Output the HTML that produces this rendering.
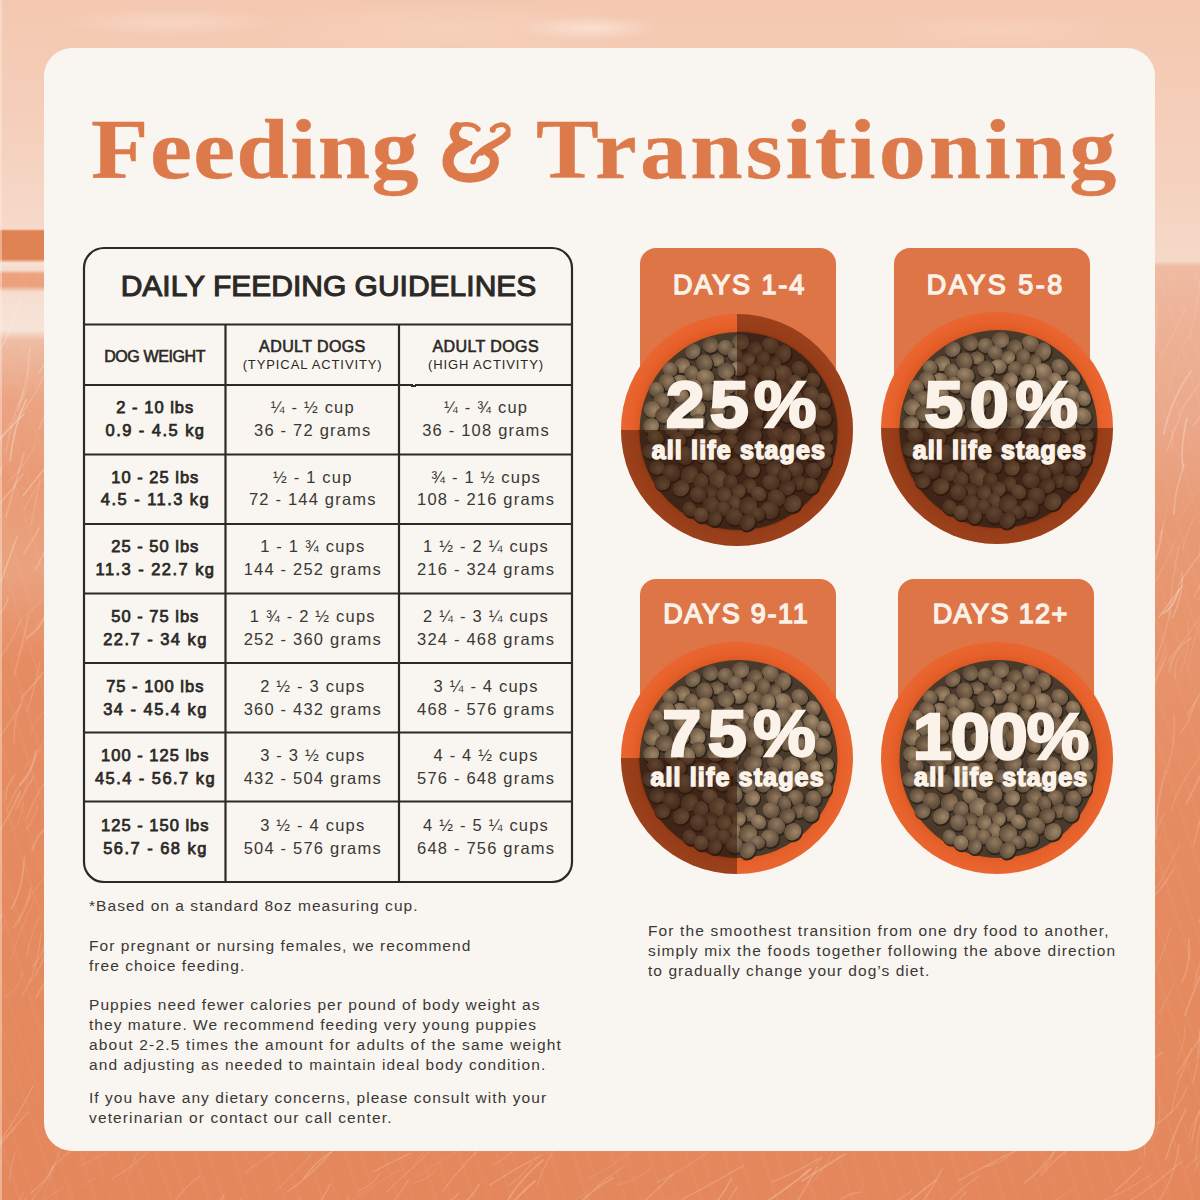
<!DOCTYPE html>
<html><head><meta charset="utf-8">
<style>
html,body{margin:0;padding:0;width:1200px;height:1200px;overflow:hidden;}
body{position:relative;font-family:"Liberation Sans",sans-serif;background:#eea27c;}
.abs{position:absolute;}
#bg{left:0;top:0;width:1200px;height:1200px;
 background:linear-gradient(180deg,#f4c8b0 0px,#f5cdb8 100px,#f5d3c1 200px,#f6d8c8 261px,#efbba2 266px,#edb195 330px,#eba88a 420px,#e89a74 520px,#e68c62 800px,#e4875c 1200px);}
#ls{left:0;top:0;width:44px;height:1200px;
 background:linear-gradient(180deg,#f4c8b0 0px,#f5cfbb 120px,#f6d9ca 229px,#de8254 231px,#df8254 259px,#f7e2d6 263px,#f5dccd 270px,#eca27c 274px,#eaa17c 286px,#f6ddd0 292px,#f7e3d8 330px,#eebda3 340px,#eba483 400px,#e99a74 480px,#eaa37f 570px,#e68c62 660px,#e4875c 1200px);}
#ll{left:0;top:0;width:1.5px;height:1200px;background:rgba(255,240,230,0.4);}
.grass{background:repeating-linear-gradient(72deg,rgba(255,235,220,0) 0px,rgba(255,235,220,0) 17px,rgba(255,235,220,0.10) 19px,rgba(255,235,220,0) 21px,rgba(255,235,220,0) 31px,rgba(255,235,220,0.07) 33px,rgba(255,235,220,0) 36px);}
#card{left:44px;top:48px;width:1111px;height:1103px;border-radius:28px;background:#f9f5f0;}
.ttl{position:absolute;top:95px;font-family:"Liberation Serif",serif;font-weight:bold;font-size:84px;line-height:110px;color:#dd7a4b;letter-spacing:1.75px;-webkit-text-stroke:0.4px #dd7a4b;transform:scaleX(1.12);transform-origin:0 0;white-space:nowrap;}
.t{position:absolute;white-space:nowrap;text-align:center;color:#2b2926;}
.b{font-weight:bold;}
.body{position:absolute;white-space:nowrap;color:#3a3835;font-size:15.5px;line-height:20px;letter-spacing:1.05px;}
.tab{position:absolute;width:196px;height:200px;border-radius:16px 16px 0 0;background:#de7547;}
.days{position:absolute;width:196px;text-align:center;color:#faf1e8;font-weight:bold;font-size:27px;line-height:30px;}
.bowl{position:absolute;width:240px;height:240px;}
.pct{position:absolute;text-shadow:0 0 4px rgba(50,30,15,0.45);width:240px;text-align:center;color:#fbf3ea;font-weight:bold;font-size:65px;line-height:70px;letter-spacing:-1px;}
.als{position:absolute;text-shadow:0 0 4px rgba(50,30,15,0.45);width:240px;text-align:center;color:#fbf3ea;font-weight:bold;font-size:25px;line-height:30px;letter-spacing:-0.5px;}
</style></head><body>
<div id="bg" class="abs"></div>
<div id="ls" class="abs"></div>
<div class="abs grass" style="left:0;top:262px;width:1200px;height:938px;opacity:0.5"></div>
<svg class="abs" style="left:0;top:0" width="1200" height="1200"><g fill="none" stroke="#fff3ea" stroke-linecap="round"><path d="M14 743 Q13 720 23 698" stroke-width="1.4" stroke-opacity="0.16"/><path d="M28 901 Q42 878 51 870" stroke-width="0.9" stroke-opacity="0.18"/><path d="M38 1214 Q48 1182 56 1165" stroke-width="1.0" stroke-opacity="0.10"/><path d="M-5 509 Q9 494 23 474" stroke-width="1.3" stroke-opacity="0.31"/><path d="M20 785 Q33 771 36 751" stroke-width="2.0" stroke-opacity="0.20"/><path d="M-6 621 Q7 607 8 597" stroke-width="1.7" stroke-opacity="0.20"/><path d="M31 1193 Q50 1178 53 1166" stroke-width="1.9" stroke-opacity="0.15"/><path d="M18 405 Q31 391 28 369" stroke-width="0.9" stroke-opacity="0.18"/><path d="M-5 445 Q4 433 11 423" stroke-width="1.8" stroke-opacity="0.14"/><path d="M24 510 Q35 484 56 466" stroke-width="0.9" stroke-opacity="0.21"/><path d="M28 1204 Q51 1179 61 1148" stroke-width="1.1" stroke-opacity="0.14"/><path d="M39 429 Q46 407 60 399" stroke-width="1.7" stroke-opacity="0.18"/><path d="M15 420 Q36 398 43 376" stroke-width="1.2" stroke-opacity="0.21"/><path d="M32 851 Q37 833 50 825" stroke-width="1.9" stroke-opacity="0.18"/><path d="M36 998 Q54 964 74 942" stroke-width="1.9" stroke-opacity="0.16"/><path d="M38 374 Q55 347 69 327" stroke-width="1.1" stroke-opacity="0.31"/><path d="M23 496 Q36 479 45 468" stroke-width="1.5" stroke-opacity="0.31"/><path d="M-8 1156 Q-1 1140 16 1128" stroke-width="1.3" stroke-opacity="0.11"/><path d="M-12 849 Q7 822 20 792" stroke-width="2.0" stroke-opacity="0.17"/><path d="M-18 465 Q-5 442 24 414" stroke-width="1.6" stroke-opacity="0.34"/><path d="M24 769 Q45 745 59 709" stroke-width="0.9" stroke-opacity="0.15"/><path d="M22 996 Q38 970 41 932" stroke-width="1.2" stroke-opacity="0.17"/><path d="M27 711 Q35 688 40 662" stroke-width="1.5" stroke-opacity="0.14"/><path d="M18 411 Q28 381 30 348" stroke-width="1.7" stroke-opacity="0.20"/><path d="M30 732 Q48 704 66 685" stroke-width="0.8" stroke-opacity="0.16"/><path d="M10 962 Q19 933 34 900" stroke-width="1.1" stroke-opacity="0.10"/><path d="M-10 520 Q-7 496 2 467" stroke-width="1.3" stroke-opacity="0.32"/><path d="M6 517 Q16 482 24 453" stroke-width="1.9" stroke-opacity="0.20"/><path d="M10 461 Q14 425 26 400" stroke-width="1.7" stroke-opacity="0.34"/><path d="M-3 741 Q6 728 21 705" stroke-width="1.6" stroke-opacity="0.15"/><path d="M7 1214 Q19 1205 23 1193" stroke-width="1.8" stroke-opacity="0.10"/><path d="M27 615 Q43 599 47 591" stroke-width="1.3" stroke-opacity="0.11"/><path d="M-17 465 Q-4 452 -1 423" stroke-width="1.6" stroke-opacity="0.26"/><path d="M-8 949 Q3 929 6 919" stroke-width="0.8" stroke-opacity="0.15"/><path d="M1 582 Q7 564 17 537" stroke-width="1.5" stroke-opacity="0.29"/><path d="M-15 1147 Q-7 1125 -3 1090" stroke-width="1.0" stroke-opacity="0.15"/><path d="M14 675 Q24 641 28 616" stroke-width="1.9" stroke-opacity="0.15"/><path d="M29 983 Q47 963 49 929" stroke-width="1.1" stroke-opacity="0.19"/><path d="M27 818 Q37 789 61 761" stroke-width="1.8" stroke-opacity="0.13"/><path d="M26 830 Q37 813 37 806" stroke-width="1.8" stroke-opacity="0.11"/><path d="M27 638 Q42 628 46 612" stroke-width="1.4" stroke-opacity="0.28"/><path d="M10 1182 Q9 1171 15 1153" stroke-width="1.1" stroke-opacity="0.15"/><path d="M11 909 Q23 891 24 860" stroke-width="1.2" stroke-opacity="0.14"/><path d="M31 525 Q36 502 40 478" stroke-width="1.5" stroke-opacity="0.15"/><path d="M-18 879 Q-13 855 -9 831" stroke-width="1.3" stroke-opacity="0.18"/><path d="M-16 955 Q-11 935 2 915" stroke-width="1.9" stroke-opacity="0.19"/><path d="M6 453 Q10 423 24 390" stroke-width="1.4" stroke-opacity="0.18"/><path d="M-12 1163 Q-6 1148 -5 1139" stroke-width="1.0" stroke-opacity="0.12"/><path d="M17 656 Q31 628 52 610" stroke-width="0.9" stroke-opacity="0.15"/><path d="M6 812 Q12 795 27 774" stroke-width="1.4" stroke-opacity="0.12"/><path d="M12 908 Q22 888 25 857" stroke-width="1.8" stroke-opacity="0.12"/><path d="M-1 1143 Q22 1109 33 1086" stroke-width="1.1" stroke-opacity="0.20"/><path d="M24 553 Q36 535 39 528" stroke-width="1.8" stroke-opacity="0.21"/><path d="M21 698 Q39 679 43 672" stroke-width="1.6" stroke-opacity="0.19"/><path d="M25 790 Q31 757 49 739" stroke-width="1.0" stroke-opacity="0.11"/><path d="M11 831 Q22 824 23 802" stroke-width="1.0" stroke-opacity="0.12"/><path d="M-14 1165 Q4 1138 28 1112" stroke-width="1.4" stroke-opacity="0.18"/><path d="M6 799 Q5 786 15 775" stroke-width="1.6" stroke-opacity="0.18"/><path d="M4 998 Q20 989 23 971" stroke-width="1.4" stroke-opacity="0.10"/><path d="M32 967 Q47 952 47 927" stroke-width="1.5" stroke-opacity="0.15"/><path d="M35 570 Q50 547 53 513" stroke-width="1.8" stroke-opacity="0.20"/><path d="M26 958 Q30 937 39 917" stroke-width="1.7" stroke-opacity="0.11"/><path d="M1 349 Q13 322 20 300" stroke-width="1.1" stroke-opacity="0.34"/><path d="M14 927 Q26 912 31 888" stroke-width="2.0" stroke-opacity="0.16"/><path d="M-19 1212 Q-15 1180 3 1158" stroke-width="1.1" stroke-opacity="0.14"/><path d="M-14 674 Q11 648 21 619" stroke-width="1.5" stroke-opacity="0.15"/><path d="M18 1226 Q15 1219 26 1198" stroke-width="1.5" stroke-opacity="0.18"/><path d="M8 482 Q29 462 35 444" stroke-width="1.5" stroke-opacity="0.11"/><path d="M16 809 Q22 796 34 776" stroke-width="1.6" stroke-opacity="0.16"/><path d="M-19 603 Q-14 599 -5 581" stroke-width="1.0" stroke-opacity="0.29"/><path d="M1143 1006 Q1145 972 1149 939" stroke-width="0.9" stroke-opacity="0.19"/><path d="M1155 1206 Q1175 1180 1179 1144" stroke-width="1.7" stroke-opacity="0.15"/><path d="M1147 877 Q1154 850 1161 834" stroke-width="1.0" stroke-opacity="0.11"/><path d="M1180 734 Q1192 718 1195 701" stroke-width="1.5" stroke-opacity="0.14"/><path d="M1197 1228 Q1206 1213 1206 1193" stroke-width="0.9" stroke-opacity="0.19"/><path d="M1156 660 Q1167 630 1170 611" stroke-width="1.5" stroke-opacity="0.16"/><path d="M1199 562 Q1200 528 1208 498" stroke-width="0.8" stroke-opacity="0.12"/><path d="M1146 895 Q1152 884 1156 868" stroke-width="0.9" stroke-opacity="0.17"/><path d="M1169 672 Q1173 649 1191 638" stroke-width="1.7" stroke-opacity="0.18"/><path d="M1177 1060 Q1186 1041 1185 1026" stroke-width="1.3" stroke-opacity="0.13"/><path d="M1199 922 Q1210 898 1223 878" stroke-width="1.7" stroke-opacity="0.19"/><path d="M1193 426 Q1204 412 1210 403" stroke-width="1.5" stroke-opacity="0.22"/><path d="M1145 1030 Q1163 1010 1174 984" stroke-width="0.9" stroke-opacity="0.13"/><path d="M1149 592 Q1165 567 1175 541" stroke-width="1.2" stroke-opacity="0.13"/><path d="M1196 1158 Q1197 1134 1203 1113" stroke-width="1.8" stroke-opacity="0.13"/><path d="M1194 1172 Q1203 1152 1215 1137" stroke-width="1.2" stroke-opacity="0.14"/><path d="M1174 514 Q1174 494 1184 465" stroke-width="1.8" stroke-opacity="0.24"/><path d="M1157 1124 Q1180 1108 1187 1087" stroke-width="1.5" stroke-opacity="0.16"/><path d="M1144 1056 Q1158 1034 1165 999" stroke-width="0.9" stroke-opacity="0.11"/><path d="M1178 415 Q1190 396 1212 367" stroke-width="1.6" stroke-opacity="0.16"/><path d="M1186 804 Q1195 787 1204 768" stroke-width="2.0" stroke-opacity="0.17"/><path d="M1182 982 Q1191 965 1189 939" stroke-width="1.8" stroke-opacity="0.17"/><path d="M1193 1082 Q1201 1054 1199 1029" stroke-width="1.4" stroke-opacity="0.17"/><path d="M1149 714 Q1152 679 1166 647" stroke-width="1.3" stroke-opacity="0.12"/><path d="M1198 600 Q1215 579 1222 569" stroke-width="0.9" stroke-opacity="0.26"/><path d="M1168 395 Q1174 360 1190 333" stroke-width="0.8" stroke-opacity="0.13"/><path d="M1183 550 Q1184 537 1195 516" stroke-width="1.0" stroke-opacity="0.17"/><path d="M1173 617 Q1184 592 1182 572" stroke-width="1.1" stroke-opacity="0.32"/><path d="M1197 827 Q1209 809 1211 795" stroke-width="0.9" stroke-opacity="0.19"/><path d="M1171 810 Q1181 779 1206 750" stroke-width="1.6" stroke-opacity="0.12"/><path d="M1188 671 Q1192 642 1201 620" stroke-width="1.0" stroke-opacity="0.12"/><path d="M1171 1114 Q1176 1085 1192 1047" stroke-width="1.1" stroke-opacity="0.15"/><path d="M1189 341 Q1198 304 1200 280" stroke-width="0.9" stroke-opacity="0.17"/><path d="M1168 767 Q1176 740 1174 716" stroke-width="1.8" stroke-opacity="0.13"/><path d="M1145 1156 Q1143 1144 1152 1122" stroke-width="1.5" stroke-opacity="0.15"/><path d="M1159 617 Q1168 605 1182 586" stroke-width="1.4" stroke-opacity="0.28"/><path d="M1164 434 Q1170 401 1191 371" stroke-width="1.8" stroke-opacity="0.26"/><path d="M1154 972 Q1167 946 1170 929" stroke-width="0.8" stroke-opacity="0.20"/><path d="M1157 888 Q1167 869 1180 844" stroke-width="1.2" stroke-opacity="0.13"/><path d="M1152 568 Q1161 546 1162 530" stroke-width="1.9" stroke-opacity="0.24"/><path d="M1146 1076 Q1149 1062 1162 1052" stroke-width="1.6" stroke-opacity="0.17"/><path d="M1176 1085 Q1185 1064 1197 1057" stroke-width="1.0" stroke-opacity="0.11"/><path d="M1166 1159 Q1174 1132 1186 1109" stroke-width="1.7" stroke-opacity="0.18"/><path d="M1141 707 Q1156 683 1166 656" stroke-width="2.0" stroke-opacity="0.18"/><path d="M1160 357 Q1173 337 1185 309" stroke-width="0.9" stroke-opacity="0.19"/><path d="M1177 1074 Q1191 1050 1210 1025" stroke-width="1.9" stroke-opacity="0.15"/><path d="M1183 466 Q1180 449 1187 418" stroke-width="1.7" stroke-opacity="0.31"/><path d="M1152 898 Q1160 891 1174 869" stroke-width="1.5" stroke-opacity="0.17"/><path d="M1168 661 Q1189 634 1208 606" stroke-width="1.0" stroke-opacity="0.19"/><path d="M1156 839 Q1155 809 1166 770" stroke-width="1.8" stroke-opacity="0.16"/><path d="M1194 597 Q1208 568 1220 554" stroke-width="1.8" stroke-opacity="0.15"/><path d="M1151 368 Q1157 339 1157 302" stroke-width="1.6" stroke-opacity="0.18"/><path d="M1176 680 Q1172 665 1181 654" stroke-width="1.0" stroke-opacity="0.15"/><path d="M1150 847 Q1160 822 1164 813" stroke-width="1.5" stroke-opacity="0.13"/><path d="M1149 937 Q1154 914 1155 886" stroke-width="1.4" stroke-opacity="0.14"/><path d="M1185 1015 Q1197 981 1212 950" stroke-width="1.8" stroke-opacity="0.19"/><path d="M1194 844 Q1200 814 1212 798" stroke-width="1.3" stroke-opacity="0.19"/><path d="M1194 986 Q1202 954 1207 936" stroke-width="1.7" stroke-opacity="0.13"/><path d="M1167 451 Q1175 427 1183 411" stroke-width="0.9" stroke-opacity="0.27"/><path d="M1164 613 Q1174 607 1179 589" stroke-width="1.9" stroke-opacity="0.34"/><path d="M1188 715 Q1198 695 1220 665" stroke-width="1.5" stroke-opacity="0.19"/><path d="M1172 450 Q1171 431 1175 425" stroke-width="1.1" stroke-opacity="0.17"/><path d="M1189 1137 Q1190 1125 1207 1100" stroke-width="1.5" stroke-opacity="0.10"/><path d="M1170 614 Q1171 587 1179 546" stroke-width="1.4" stroke-opacity="0.15"/><path d="M1152 1138 Q1162 1126 1159 1098" stroke-width="1.4" stroke-opacity="0.12"/><path d="M1178 520 Q1199 490 1213 466" stroke-width="0.9" stroke-opacity="0.13"/><path d="M1192 1141 Q1195 1120 1200 1111" stroke-width="1.6" stroke-opacity="0.19"/><path d="M1158 539 Q1165 527 1167 506" stroke-width="1.0" stroke-opacity="0.16"/><path d="M1180 672 Q1191 649 1188 621" stroke-width="1.1" stroke-opacity="0.13"/><path d="M1178 586 Q1200 551 1220 531" stroke-width="1.3" stroke-opacity="0.23"/><path d="M341 1208 Q374 1185 399 1170" stroke-width="0.9" stroke-opacity="0.13"/><path d="M658 1182 Q689 1167 721 1143" stroke-width="2.0" stroke-opacity="0.09"/><path d="M1115 1191 Q1126 1182 1141 1167" stroke-width="1.5" stroke-opacity="0.19"/><path d="M620 1223 Q654 1193 673 1174" stroke-width="1.6" stroke-opacity="0.17"/><path d="M198 1222 Q216 1213 224 1195" stroke-width="1.3" stroke-opacity="0.21"/><path d="M587 1179 Q612 1167 635 1148" stroke-width="1.4" stroke-opacity="0.09"/><path d="M1047 1206 Q1061 1196 1076 1188" stroke-width="0.8" stroke-opacity="0.16"/><path d="M958 1181 Q996 1160 1025 1146" stroke-width="1.5" stroke-opacity="0.17"/><path d="M373 1172 Q388 1164 411 1153" stroke-width="1.5" stroke-opacity="0.17"/><path d="M985 1167 Q1007 1162 1018 1147" stroke-width="1.0" stroke-opacity="0.20"/><path d="M493 1165 Q507 1158 522 1142" stroke-width="2.0" stroke-opacity="0.09"/><path d="M173 1239 Q205 1212 223 1196" stroke-width="0.8" stroke-opacity="0.12"/><path d="M358 1191 Q373 1186 380 1173" stroke-width="0.8" stroke-opacity="0.25"/><path d="M304 1178 Q315 1162 331 1152" stroke-width="1.4" stroke-opacity="0.24"/><path d="M733 1238 Q752 1231 775 1218" stroke-width="1.6" stroke-opacity="0.09"/><path d="M709 1229 Q721 1213 737 1187" stroke-width="1.3" stroke-opacity="0.22"/><path d="M417 1177 Q436 1162 464 1148" stroke-width="1.0" stroke-opacity="0.11"/><path d="M537 1185 Q550 1151 568 1131" stroke-width="1.8" stroke-opacity="0.11"/><path d="M435 1215 Q444 1215 457 1201" stroke-width="1.0" stroke-opacity="0.12"/><path d="M322 1217 Q340 1211 349 1197" stroke-width="1.9" stroke-opacity="0.14"/><path d="M24 1233 Q40 1223 62 1205" stroke-width="0.9" stroke-opacity="0.23"/><path d="M66 1202 Q82 1182 96 1178" stroke-width="0.8" stroke-opacity="0.11"/><path d="M509 1185 Q524 1176 532 1162" stroke-width="1.6" stroke-opacity="0.12"/><path d="M246 1172 Q278 1149 298 1135" stroke-width="1.3" stroke-opacity="0.15"/><path d="M414 1183 Q426 1181 437 1169" stroke-width="0.8" stroke-opacity="0.19"/><path d="M358 1238 Q385 1217 408 1181" stroke-width="1.1" stroke-opacity="0.20"/><path d="M282 1229 Q285 1217 302 1208" stroke-width="1.3" stroke-opacity="0.15"/><path d="M597 1186 Q605 1179 624 1167" stroke-width="1.3" stroke-opacity="0.16"/><path d="M112 1179 Q134 1166 150 1150" stroke-width="1.0" stroke-opacity="0.18"/><path d="M28 1216 Q38 1202 63 1188" stroke-width="0.9" stroke-opacity="0.15"/><path d="M563 1207 Q585 1196 594 1184" stroke-width="0.8" stroke-opacity="0.14"/><path d="M802 1181 Q821 1169 845 1154" stroke-width="1.5" stroke-opacity="0.24"/><path d="M926 1235 Q942 1219 966 1192" stroke-width="1.3" stroke-opacity="0.15"/><path d="M458 1230 Q463 1217 473 1208" stroke-width="1.0" stroke-opacity="0.17"/><path d="M180 1238 Q188 1229 212 1218" stroke-width="1.6" stroke-opacity="0.12"/><path d="M287 1192 Q311 1176 332 1151" stroke-width="1.5" stroke-opacity="0.19"/><path d="M400 1238 Q433 1218 459 1193" stroke-width="1.2" stroke-opacity="0.20"/><path d="M989 1237 Q1013 1219 1040 1207" stroke-width="1.4" stroke-opacity="0.18"/><path d="M641 1220 Q657 1203 673 1199" stroke-width="1.2" stroke-opacity="0.11"/><path d="M82 1165 Q115 1149 138 1135" stroke-width="0.9" stroke-opacity="0.16"/><path d="M1040 1173 Q1052 1160 1055 1150" stroke-width="1.1" stroke-opacity="0.17"/><path d="M302 1217 Q321 1206 330 1184" stroke-width="1.2" stroke-opacity="0.21"/><path d="M505 1205 Q518 1181 543 1160" stroke-width="1.8" stroke-opacity="0.22"/><path d="M277 1214 Q296 1201 299 1200" stroke-width="1.5" stroke-opacity="0.24"/><path d="M503 1215 Q512 1201 535 1181" stroke-width="1.9" stroke-opacity="0.25"/><path d="M51 1169 Q75 1143 104 1132" stroke-width="2.0" stroke-opacity="0.10"/><path d="M580 1203 Q593 1189 613 1178" stroke-width="1.8" stroke-opacity="0.22"/><path d="M918 1209 Q935 1184 942 1169" stroke-width="1.6" stroke-opacity="0.17"/><path d="M129 1174 Q136 1150 149 1141" stroke-width="1.4" stroke-opacity="0.10"/><path d="M172 1205 Q184 1187 200 1176" stroke-width="1.1" stroke-opacity="0.16"/><path d="M77 1164 Q89 1155 101 1129" stroke-width="0.9" stroke-opacity="0.11"/><path d="M1041 1176 Q1051 1161 1076 1144" stroke-width="1.8" stroke-opacity="0.15"/><path d="M748 1213 Q778 1196 811 1169" stroke-width="1.8" stroke-opacity="0.25"/><path d="M211 1218 Q224 1215 242 1203" stroke-width="0.9" stroke-opacity="0.09"/><path d="M617 1185 Q634 1182 650 1169" stroke-width="2.0" stroke-opacity="0.08"/><path d="M882 1223 Q917 1195 936 1180" stroke-width="1.8" stroke-opacity="0.21"/><path d="M483 1236 Q496 1217 508 1206" stroke-width="1.9" stroke-opacity="0.08"/><path d="M443 1191 Q464 1162 490 1139" stroke-width="1.2" stroke-opacity="0.19"/><path d="M386 1232 Q409 1223 424 1212" stroke-width="1.7" stroke-opacity="0.12"/><path d="M213 1214 Q219 1207 242 1199" stroke-width="1.2" stroke-opacity="0.15"/><path d="M386 1192 Q411 1170 442 1139" stroke-width="1.0" stroke-opacity="0.23"/><path d="M1185 1169 Q1218 1138 1245 1119" stroke-width="1.1" stroke-opacity="0.15"/><path d="M813 1182 Q832 1158 835 1146" stroke-width="1.0" stroke-opacity="0.14"/><path d="M454 1211 Q472 1199 479 1184" stroke-width="1.5" stroke-opacity="0.23"/><path d="M681 1200 Q715 1182 743 1166" stroke-width="1.6" stroke-opacity="0.16"/><path d="M276 1191 Q298 1170 315 1150" stroke-width="1.4" stroke-opacity="0.09"/><path d="M713 1207 Q726 1190 731 1179" stroke-width="1.4" stroke-opacity="0.25"/><path d="M1187 1219 Q1215 1192 1244 1173" stroke-width="1.0" stroke-opacity="0.25"/><path d="M779 1227 Q806 1190 817 1167" stroke-width="1.8" stroke-opacity="0.17"/><path d="M854 1230 Q889 1205 912 1191" stroke-width="1.3" stroke-opacity="0.17"/><path d="M772 1182 Q793 1174 822 1157" stroke-width="1.7" stroke-opacity="0.16"/><path d="M925 1228 Q950 1196 979 1176" stroke-width="1.8" stroke-opacity="0.11"/><path d="M415 1163 Q433 1139 455 1105" stroke-width="0.9" stroke-opacity="0.11"/><path d="M1082 1209 Q1123 1195 1153 1173" stroke-width="1.0" stroke-opacity="0.19"/><path d="M802 1176 Q814 1164 822 1159" stroke-width="1.2" stroke-opacity="0.13"/><path d="M834 1208 Q842 1194 861 1192" stroke-width="1.6" stroke-opacity="0.16"/><path d="M732 1235 Q750 1222 760 1213" stroke-width="2.0" stroke-opacity="0.20"/><path d="M490 1185 Q514 1169 542 1155" stroke-width="1.3" stroke-opacity="0.22"/><path d="M1130 1201 Q1152 1187 1181 1162" stroke-width="1.1" stroke-opacity="0.18"/><path d="M1025 1183 Q1046 1166 1058 1145" stroke-width="1.9" stroke-opacity="0.15"/></g></svg>
<div class="abs" style="left:0;top:0;width:1200px;height:60px;background:radial-gradient(70px 12px at 590px 28px,rgba(255,240,232,0.55),rgba(255,240,232,0)),radial-gradient(110px 14px at 170px 22px,rgba(255,236,226,0.35),rgba(255,236,226,0)),radial-gradient(200px 30px at 450px 30px,rgba(255,230,215,0.25),rgba(255,230,215,0)),radial-gradient(120px 16px at 1000px 30px,rgba(255,236,226,0.2),rgba(255,236,226,0))"></div>
<div id="ll" class="abs"></div>
<div id="card" class="abs"></div>
<div class="ttl" style="left:90.5px;letter-spacing:1.3px">Feeding</div>
<div class="ttl" style="left:536px;letter-spacing:2.85px">Transitioning</div>
<svg class="abs" style="left:435px;top:110px" width="90" height="80" viewBox="0 0 1200 1067"><g fill="none" stroke="#dd7a4b" stroke-linecap="round">
<path d="M570 255 C540 190 380 170 300 220" stroke-width="60"/>
<path d="M300 220 C220 290 250 420 400 450" stroke-width="120"/>
<path d="M380 450 L470 445" stroke-width="60"/>
<path d="M340 470 C180 520 120 700 230 830" stroke-width="150"/>
<path d="M230 830 C330 930 560 930 700 840" stroke-width="125"/>
<path d="M700 840 C820 760 820 620 720 570" stroke-width="120"/>
<path d="M720 570 C640 530 520 580 510 690" stroke-width="70"/>
<path d="M620 560 C720 470 900 420 960 330" stroke-width="95"/>
<path d="M960 330 C1010 240 930 180 860 200 C800 215 770 240 770 265" stroke-width="65"/>
</g><g fill="#dd7a4b"><circle cx="575" cy="255" r="35"/><circle cx="770" cy="262" r="40"/><circle cx="505" cy="690" r="35"/></g></svg>

<!-- TABLE -->
<svg class="abs" style="left:0;top:0" width="1200" height="1200">
 <defs><filter id="wob" x="-2%" y="-2%" width="104%" height="104%"><feTurbulence type="fractalNoise" baseFrequency="0.035" numOctaves="1" seed="3"/><feDisplacementMap in="SourceGraphic" scale="1.6"/></filter></defs>
 <g fill="none" stroke="#2b2a27" stroke-width="2.2" filter="url(#wob)">
  <rect x="84" y="248" width="488" height="634" rx="20" ry="20"/>
  <line x1="84" y1="324.5" x2="572" y2="324.5"/>
  <line x1="84" y1="385" x2="572" y2="385"/>
  <line x1="84" y1="454.5" x2="572" y2="454.5"/>
  <line x1="84" y1="524" x2="572" y2="524"/>
  <line x1="84" y1="593.5" x2="572" y2="593.5"/>
  <line x1="84" y1="663" x2="572" y2="663"/>
  <line x1="84" y1="732.5" x2="572" y2="732.5"/>
  <line x1="84" y1="801.5" x2="572" y2="801.5"/>
  <line x1="225.5" y1="324.5" x2="225.5" y2="882"/>
  <line x1="399" y1="324.5" x2="399" y2="882"/>
 </g>
</svg>
<div class="t" style="left:328.5px;top:266.41px;width:0;font-size:30.00px;line-height:39px;letter-spacing:0.00px;text-indent:0.00px;-webkit-text-stroke:1.1px #2b2926;"><span style="position:absolute;left:-300px;width:600px;">DAILY FEEDING GUIDELINES</span></div>
<div class="t" style="left:154.8px;top:345.76px;width:0;font-size:16.00px;line-height:21px;letter-spacing:-0.40px;text-indent:-0.40px;-webkit-text-stroke:0.6px #2b2926;"><span style="position:absolute;left:-300px;width:600px;">DOG WEIGHT</span></div>
<div class="t" style="left:312.2px;top:335.96px;width:0;font-size:16.00px;line-height:21px;letter-spacing:0.40px;text-indent:0.40px;-webkit-text-stroke:0.6px #2b2926;"><span style="position:absolute;left:-300px;width:600px;">ADULT DOGS</span></div>
<div class="t" style="left:312.2px;top:356.30px;width:0;font-size:13.00px;line-height:17px;letter-spacing:0.90px;text-indent:0.90px;"><span style="position:absolute;left:-300px;width:600px;">(TYPICAL ACTIVITY)</span></div>
<div class="t" style="left:485.5px;top:335.96px;width:0;font-size:16.00px;line-height:21px;letter-spacing:0.40px;text-indent:0.40px;-webkit-text-stroke:0.6px #2b2926;"><span style="position:absolute;left:-300px;width:600px;">ADULT DOGS</span></div>
<div class="t" style="left:485.5px;top:356.30px;width:0;font-size:13.00px;line-height:17px;letter-spacing:0.90px;text-indent:0.90px;"><span style="position:absolute;left:-300px;width:600px;">(HIGH ACTIVITY)</span></div>
<div class="t" style="left:154.8px;top:396.88px;width:0;font-size:16.50px;line-height:21px;letter-spacing:1.00px;text-indent:1.00px;-webkit-text-stroke:0.75px #2b2926;"><span style="position:absolute;left:-300px;width:600px;">2 - 10 lbs</span></div>
<div class="t" style="left:154.8px;top:419.78px;width:0;font-size:16.50px;line-height:21px;letter-spacing:1.45px;text-indent:1.45px;-webkit-text-stroke:0.75px #2b2926;"><span style="position:absolute;left:-300px;width:600px;">0.9 - 4.5 kg</span></div>
<div class="t" style="left:312.2px;top:396.88px;width:0;font-size:16.50px;line-height:21px;color:#3a3835;letter-spacing:1.20px;text-indent:1.20px;"><span style="position:absolute;left:-300px;width:600px;">¼ - ½ cup</span></div>
<div class="t" style="left:312.2px;top:419.78px;width:0;font-size:16.50px;line-height:21px;color:#3a3835;letter-spacing:1.20px;text-indent:1.20px;"><span style="position:absolute;left:-300px;width:600px;">36 - 72 grams</span></div>
<div class="t" style="left:485.5px;top:396.88px;width:0;font-size:16.50px;line-height:21px;color:#3a3835;letter-spacing:1.20px;text-indent:1.20px;"><span style="position:absolute;left:-300px;width:600px;">¼ - ¾ cup</span></div>
<div class="t" style="left:485.5px;top:419.78px;width:0;font-size:16.50px;line-height:21px;color:#3a3835;letter-spacing:1.20px;text-indent:1.20px;"><span style="position:absolute;left:-300px;width:600px;">36 - 108 grams</span></div>
<div class="t" style="left:154.8px;top:466.58px;width:0;font-size:16.50px;line-height:21px;letter-spacing:1.00px;text-indent:1.00px;-webkit-text-stroke:0.75px #2b2926;"><span style="position:absolute;left:-300px;width:600px;">10 - 25 lbs</span></div>
<div class="t" style="left:154.8px;top:489.48px;width:0;font-size:16.50px;line-height:21px;letter-spacing:1.45px;text-indent:1.45px;-webkit-text-stroke:0.75px #2b2926;"><span style="position:absolute;left:-300px;width:600px;">4.5 - 11.3 kg</span></div>
<div class="t" style="left:312.2px;top:466.58px;width:0;font-size:16.50px;line-height:21px;color:#3a3835;letter-spacing:1.20px;text-indent:1.20px;"><span style="position:absolute;left:-300px;width:600px;">½ - 1 cup</span></div>
<div class="t" style="left:312.2px;top:489.48px;width:0;font-size:16.50px;line-height:21px;color:#3a3835;letter-spacing:1.20px;text-indent:1.20px;"><span style="position:absolute;left:-300px;width:600px;">72 - 144 grams</span></div>
<div class="t" style="left:485.5px;top:466.58px;width:0;font-size:16.50px;line-height:21px;color:#3a3835;letter-spacing:1.20px;text-indent:1.20px;"><span style="position:absolute;left:-300px;width:600px;">¾ - 1 ½ cups</span></div>
<div class="t" style="left:485.5px;top:489.48px;width:0;font-size:16.50px;line-height:21px;color:#3a3835;letter-spacing:1.20px;text-indent:1.20px;"><span style="position:absolute;left:-300px;width:600px;">108 - 216 grams</span></div>
<div class="t" style="left:154.8px;top:536.28px;width:0;font-size:16.50px;line-height:21px;letter-spacing:1.00px;text-indent:1.00px;-webkit-text-stroke:0.75px #2b2926;"><span style="position:absolute;left:-300px;width:600px;">25 - 50 lbs</span></div>
<div class="t" style="left:154.8px;top:559.18px;width:0;font-size:16.50px;line-height:21px;letter-spacing:1.45px;text-indent:1.45px;-webkit-text-stroke:0.75px #2b2926;"><span style="position:absolute;left:-300px;width:600px;">11.3 - 22.7 kg</span></div>
<div class="t" style="left:312.2px;top:536.28px;width:0;font-size:16.50px;line-height:21px;color:#3a3835;letter-spacing:1.20px;text-indent:1.20px;"><span style="position:absolute;left:-300px;width:600px;">1 - 1 ¾ cups</span></div>
<div class="t" style="left:312.2px;top:559.18px;width:0;font-size:16.50px;line-height:21px;color:#3a3835;letter-spacing:1.20px;text-indent:1.20px;"><span style="position:absolute;left:-300px;width:600px;">144 - 252 grams</span></div>
<div class="t" style="left:485.5px;top:536.28px;width:0;font-size:16.50px;line-height:21px;color:#3a3835;letter-spacing:1.20px;text-indent:1.20px;"><span style="position:absolute;left:-300px;width:600px;">1 ½ - 2 ¼ cups</span></div>
<div class="t" style="left:485.5px;top:559.18px;width:0;font-size:16.50px;line-height:21px;color:#3a3835;letter-spacing:1.20px;text-indent:1.20px;"><span style="position:absolute;left:-300px;width:600px;">216 - 324 grams</span></div>
<div class="t" style="left:154.8px;top:605.98px;width:0;font-size:16.50px;line-height:21px;letter-spacing:1.00px;text-indent:1.00px;-webkit-text-stroke:0.75px #2b2926;"><span style="position:absolute;left:-300px;width:600px;">50 - 75 lbs</span></div>
<div class="t" style="left:154.8px;top:628.88px;width:0;font-size:16.50px;line-height:21px;letter-spacing:1.45px;text-indent:1.45px;-webkit-text-stroke:0.75px #2b2926;"><span style="position:absolute;left:-300px;width:600px;">22.7 - 34 kg</span></div>
<div class="t" style="left:312.2px;top:605.98px;width:0;font-size:16.50px;line-height:21px;color:#3a3835;letter-spacing:1.20px;text-indent:1.20px;"><span style="position:absolute;left:-300px;width:600px;">1 ¾ - 2 ½ cups</span></div>
<div class="t" style="left:312.2px;top:628.88px;width:0;font-size:16.50px;line-height:21px;color:#3a3835;letter-spacing:1.20px;text-indent:1.20px;"><span style="position:absolute;left:-300px;width:600px;">252 - 360 grams</span></div>
<div class="t" style="left:485.5px;top:605.98px;width:0;font-size:16.50px;line-height:21px;color:#3a3835;letter-spacing:1.20px;text-indent:1.20px;"><span style="position:absolute;left:-300px;width:600px;">2 ¼ - 3 ¼ cups</span></div>
<div class="t" style="left:485.5px;top:628.88px;width:0;font-size:16.50px;line-height:21px;color:#3a3835;letter-spacing:1.20px;text-indent:1.20px;"><span style="position:absolute;left:-300px;width:600px;">324 - 468 grams</span></div>
<div class="t" style="left:154.8px;top:675.68px;width:0;font-size:16.50px;line-height:21px;letter-spacing:1.00px;text-indent:1.00px;-webkit-text-stroke:0.75px #2b2926;"><span style="position:absolute;left:-300px;width:600px;">75 - 100 lbs</span></div>
<div class="t" style="left:154.8px;top:698.58px;width:0;font-size:16.50px;line-height:21px;letter-spacing:1.45px;text-indent:1.45px;-webkit-text-stroke:0.75px #2b2926;"><span style="position:absolute;left:-300px;width:600px;">34 - 45.4 kg</span></div>
<div class="t" style="left:312.2px;top:675.68px;width:0;font-size:16.50px;line-height:21px;color:#3a3835;letter-spacing:1.20px;text-indent:1.20px;"><span style="position:absolute;left:-300px;width:600px;">2 ½ - 3 cups</span></div>
<div class="t" style="left:312.2px;top:698.58px;width:0;font-size:16.50px;line-height:21px;color:#3a3835;letter-spacing:1.20px;text-indent:1.20px;"><span style="position:absolute;left:-300px;width:600px;">360 - 432 grams</span></div>
<div class="t" style="left:485.5px;top:675.68px;width:0;font-size:16.50px;line-height:21px;color:#3a3835;letter-spacing:1.20px;text-indent:1.20px;"><span style="position:absolute;left:-300px;width:600px;">3 ¼ - 4 cups</span></div>
<div class="t" style="left:485.5px;top:698.58px;width:0;font-size:16.50px;line-height:21px;color:#3a3835;letter-spacing:1.20px;text-indent:1.20px;"><span style="position:absolute;left:-300px;width:600px;">468 - 576 grams</span></div>
<div class="t" style="left:154.8px;top:745.38px;width:0;font-size:16.50px;line-height:21px;letter-spacing:1.00px;text-indent:1.00px;-webkit-text-stroke:0.75px #2b2926;"><span style="position:absolute;left:-300px;width:600px;">100 - 125 lbs</span></div>
<div class="t" style="left:154.8px;top:768.28px;width:0;font-size:16.50px;line-height:21px;letter-spacing:1.45px;text-indent:1.45px;-webkit-text-stroke:0.75px #2b2926;"><span style="position:absolute;left:-300px;width:600px;">45.4 - 56.7 kg</span></div>
<div class="t" style="left:312.2px;top:745.38px;width:0;font-size:16.50px;line-height:21px;color:#3a3835;letter-spacing:1.20px;text-indent:1.20px;"><span style="position:absolute;left:-300px;width:600px;">3 - 3 ½ cups</span></div>
<div class="t" style="left:312.2px;top:768.28px;width:0;font-size:16.50px;line-height:21px;color:#3a3835;letter-spacing:1.20px;text-indent:1.20px;"><span style="position:absolute;left:-300px;width:600px;">432 - 504 grams</span></div>
<div class="t" style="left:485.5px;top:745.38px;width:0;font-size:16.50px;line-height:21px;color:#3a3835;letter-spacing:1.20px;text-indent:1.20px;"><span style="position:absolute;left:-300px;width:600px;">4 - 4 ½ cups</span></div>
<div class="t" style="left:485.5px;top:768.28px;width:0;font-size:16.50px;line-height:21px;color:#3a3835;letter-spacing:1.20px;text-indent:1.20px;"><span style="position:absolute;left:-300px;width:600px;">576 - 648 grams</span></div>
<div class="t" style="left:154.8px;top:815.08px;width:0;font-size:16.50px;line-height:21px;letter-spacing:1.00px;text-indent:1.00px;-webkit-text-stroke:0.75px #2b2926;"><span style="position:absolute;left:-300px;width:600px;">125 - 150 lbs</span></div>
<div class="t" style="left:154.8px;top:837.98px;width:0;font-size:16.50px;line-height:21px;letter-spacing:1.45px;text-indent:1.45px;-webkit-text-stroke:0.75px #2b2926;"><span style="position:absolute;left:-300px;width:600px;">56.7 - 68 kg</span></div>
<div class="t" style="left:312.2px;top:815.08px;width:0;font-size:16.50px;line-height:21px;color:#3a3835;letter-spacing:1.20px;text-indent:1.20px;"><span style="position:absolute;left:-300px;width:600px;">3 ½ - 4 cups</span></div>
<div class="t" style="left:312.2px;top:837.98px;width:0;font-size:16.50px;line-height:21px;color:#3a3835;letter-spacing:1.20px;text-indent:1.20px;"><span style="position:absolute;left:-300px;width:600px;">504 - 576 grams</span></div>
<div class="t" style="left:485.5px;top:815.08px;width:0;font-size:16.50px;line-height:21px;color:#3a3835;letter-spacing:1.20px;text-indent:1.20px;"><span style="position:absolute;left:-300px;width:600px;">4 ½ - 5 ¼ cups</span></div>
<div class="t" style="left:485.5px;top:837.98px;width:0;font-size:16.50px;line-height:21px;color:#3a3835;letter-spacing:1.20px;text-indent:1.20px;"><span style="position:absolute;left:-300px;width:600px;">648 - 756 grams</span></div>

<div class="tab" style="left:640px;top:248.0px"></div>
<div class="t" style="left:738.6px;top:267.74px;width:0;font-size:27.00px;line-height:35px;color:#faf1e8;letter-spacing:1.90px;text-indent:1.90px;-webkit-text-stroke:1.4px #faf1e8;"><span style="position:absolute;left:-300px;width:600px;">DAYS 1-4</span></div>
<svg class="bowl" style="left:617.0px;top:309.5px" width="240" height="240" viewBox="0 0 240 240"><circle cx="120" cy="120" r="116" fill="url(#rim)"/><g clip-path="url(#kc)"><use href="#kib" transform="translate(121.5 121)"/></g><path d="M120 120 L120 2 A118 118 0 1 1 2 120 Z" fill="#3a1405" fill-opacity="0.45" clip-path="url(#bc)"/><path d="M120 120 L120 2 A118 118 0 1 1 2 120 Z" fill="#1e120a" fill-opacity="0.12" clip-path="url(#kc2)"/></svg>
<div class="t b" style="left:740.5px;top:363.18px;width:0;font-size:65.00px;line-height:84px;color:#fbf3ea;letter-spacing:4.70px;text-indent:4.70px;transform:scaleX(1.080);transform-origin:0 0;-webkit-text-stroke:2.4px #fbf3ea;text-shadow:0 0 4px rgba(50,30,15,0.45);"><span style="position:absolute;left:-300px;width:600px;">25%</span></div>
<div class="t b" style="left:738.3px;top:434.04px;width:0;font-size:25.00px;line-height:32px;color:#fbf3ea;letter-spacing:1.15px;text-indent:1.15px;-webkit-text-stroke:1.5px #fbf3ea;text-shadow:0 0 4px rgba(50,30,15,0.45);"><span style="position:absolute;left:-300px;width:600px;">all life stages</span></div>
<div class="tab" style="left:894px;top:248.0px"></div>
<div class="t" style="left:994.5px;top:267.74px;width:0;font-size:27.00px;line-height:35px;color:#faf1e8;letter-spacing:2.50px;text-indent:2.50px;-webkit-text-stroke:1.4px #faf1e8;"><span style="position:absolute;left:-300px;width:600px;">DAYS 5-8</span></div>
<svg class="bowl" style="left:877.0px;top:307.5px" width="240" height="240" viewBox="0 0 240 240"><circle cx="120" cy="120" r="116" fill="url(#rim)"/><g clip-path="url(#kc)"><use href="#kib" transform="translate(121.5 121)"/></g><path d="M2 120 A118 118 0 0 0 238 120 Z" fill="#3a1405" fill-opacity="0.45" clip-path="url(#bc)"/><path d="M2 120 A118 118 0 0 0 238 120 Z" fill="#1e120a" fill-opacity="0.12" clip-path="url(#kc2)"/></svg>
<div class="t b" style="left:1001.0px;top:363.48px;width:0;font-size:65.00px;line-height:84px;color:#fbf3ea;letter-spacing:6.10px;text-indent:6.10px;transform:scaleX(1.080);transform-origin:0 0;-webkit-text-stroke:2.4px #fbf3ea;text-shadow:0 0 4px rgba(50,30,15,0.45);"><span style="position:absolute;left:-300px;width:600px;">50%</span></div>
<div class="t b" style="left:999.3px;top:433.64px;width:0;font-size:25.00px;line-height:32px;color:#fbf3ea;letter-spacing:1.15px;text-indent:1.15px;-webkit-text-stroke:1.5px #fbf3ea;text-shadow:0 0 4px rgba(50,30,15,0.45);"><span style="position:absolute;left:-300px;width:600px;">all life stages</span></div>
<div class="tab" style="left:640px;top:578.5px"></div>
<div class="t" style="left:735.5px;top:596.94px;width:0;font-size:27.00px;line-height:35px;color:#faf1e8;letter-spacing:1.70px;text-indent:1.70px;-webkit-text-stroke:1.4px #faf1e8;"><span style="position:absolute;left:-300px;width:600px;">DAYS 9-11</span></div>
<svg class="bowl" style="left:617.0px;top:637.5px" width="240" height="240" viewBox="0 0 240 240"><circle cx="120" cy="120" r="116" fill="url(#rim)"/><g clip-path="url(#kc)"><use href="#kib" transform="translate(121.5 121)"/></g><path d="M120 120 L2 120 A118 118 0 0 0 120 238 Z" fill="#3a1405" fill-opacity="0.45" clip-path="url(#bc)"/><path d="M120 120 L2 120 A118 118 0 0 0 120 238 Z" fill="#1e120a" fill-opacity="0.12" clip-path="url(#kc2)"/></svg>
<div class="t b" style="left:739.0px;top:692.18px;width:0;font-size:65.00px;line-height:84px;color:#fbf3ea;letter-spacing:5.90px;text-indent:5.90px;transform:scaleX(1.080);transform-origin:0 0;-webkit-text-stroke:2.4px #fbf3ea;text-shadow:0 0 4px rgba(50,30,15,0.45);"><span style="position:absolute;left:-300px;width:600px;">75%</span></div>
<div class="t b" style="left:737.0px;top:760.94px;width:0;font-size:25.00px;line-height:32px;color:#fbf3ea;letter-spacing:1.15px;text-indent:1.15px;-webkit-text-stroke:1.5px #fbf3ea;text-shadow:0 0 4px rgba(50,30,15,0.45);"><span style="position:absolute;left:-300px;width:600px;">all life stages</span></div>
<div class="tab" style="left:898px;top:578.5px"></div>
<div class="t" style="left:1000.0px;top:596.94px;width:0;font-size:27.00px;line-height:35px;color:#faf1e8;letter-spacing:1.40px;text-indent:1.40px;-webkit-text-stroke:1.4px #faf1e8;"><span style="position:absolute;left:-300px;width:600px;">DAYS 12+</span></div>
<svg class="bowl" style="left:877.0px;top:638.0px" width="240" height="240" viewBox="0 0 240 240"><circle cx="120" cy="120" r="116" fill="url(#rim)"/><g clip-path="url(#kc)"><use href="#kib" transform="translate(121.5 121)"/></g></svg>
<div class="t b" style="left:1001.0px;top:694.88px;width:0;font-size:65.00px;line-height:84px;color:#fbf3ea;letter-spacing:-1.00px;text-indent:-1.00px;transform:scaleX(1.080);transform-origin:0 0;-webkit-text-stroke:2.4px #fbf3ea;text-shadow:0 0 4px rgba(50,30,15,0.45);"><span style="position:absolute;left:-300px;width:600px;">100%</span></div>
<div class="t b" style="left:1000.7px;top:760.94px;width:0;font-size:25.00px;line-height:32px;color:#fbf3ea;letter-spacing:1.15px;text-indent:1.15px;-webkit-text-stroke:1.5px #fbf3ea;text-shadow:0 0 4px rgba(50,30,15,0.45);"><span style="position:absolute;left:-300px;width:600px;">all life stages</span></div>

<div class="body" style="left:89px;top:895.63px">*Based on a standard 8oz measuring cup.</div>
<div class="body" style="left:89px;top:935.83px">For pregnant or nursing females, we recommend<br>free choice feeding.</div>
<div class="body" style="left:89px;top:995.43px">Puppies need fewer calories per pound of body weight as<br>they mature. We recommend feeding very young puppies<br><span style="letter-spacing:1.19px">about 2-2.5 times the amount for adults of the same weight</span><br><span style="letter-spacing:1.1px">and adjusting as needed to maintain ideal body condition.</span></div>
<div class="body" style="left:89px;top:1087.93px">If you have any dietary concerns, please consult with your<br><span style="letter-spacing:1.13px">veterinarian or contact our call center.</span></div>
<div class="body" style="left:648px;top:920.63px"><span style="letter-spacing:1.14px">For the smoothest transition from one dry food to another,</span><br><span style="letter-spacing:1.13px">simply mix the foods together following the above direction</span><br>to gradually change your dog’s diet.</div>

<svg width="0" height="0" style="position:absolute">
<defs>
 <g id="kib">
<circle cx="0" cy="0" r="99" fill="#4a3a2c"/>
<ellipse cx="2.7" cy="-87.9" rx="9.5" ry="8.7" transform="rotate(172 2.7 -87.9)" fill="#2c2319"/>
<ellipse cx="2.0" cy="-89.1" rx="8.9" ry="8.1" transform="rotate(172 2.0 -89.1)" fill="url(#k2)"/>
<ellipse cx="-27.3" cy="-84.8" rx="8.7" ry="8.5" transform="rotate(175 -27.3 -84.8)" fill="#2c2319"/>
<ellipse cx="-28.0" cy="-86.0" rx="8.1" ry="7.9" transform="rotate(175 -28.0 -86.0)" fill="url(#k3)"/>
<ellipse cx="32.5" cy="-84.0" rx="9.6" ry="8.7" transform="rotate(26 32.5 -84.0)" fill="#2c2319"/>
<ellipse cx="31.8" cy="-85.2" rx="9.0" ry="8.1" transform="rotate(26 31.8 -85.2)" fill="url(#k2)"/>
<ellipse cx="-12.2" cy="-82.2" rx="8.4" ry="8.2" transform="rotate(4 -12.2 -82.2)" fill="#2c2319"/>
<ellipse cx="-12.9" cy="-83.4" rx="7.8" ry="7.6" transform="rotate(4 -12.9 -83.4)" fill="url(#k5)"/>
<ellipse cx="16.9" cy="-80.3" rx="8.6" ry="8.4" transform="rotate(123 16.9 -80.3)" fill="#2c2319"/>
<ellipse cx="16.2" cy="-81.5" rx="8.0" ry="7.8" transform="rotate(123 16.2 -81.5)" fill="url(#k3)"/>
<ellipse cx="-45.1" cy="-78.4" rx="9.0" ry="7.8" transform="rotate(142 -45.1 -78.4)" fill="#2c2319"/>
<ellipse cx="-45.8" cy="-79.6" rx="8.4" ry="7.2" transform="rotate(142 -45.8 -79.6)" fill="url(#k5)"/>
<ellipse cx="45.1" cy="-76.0" rx="10.1" ry="8.7" transform="rotate(115 45.1 -76.0)" fill="#2c2319"/>
<ellipse cx="44.4" cy="-77.2" rx="9.5" ry="8.1" transform="rotate(115 44.4 -77.2)" fill="url(#k2)"/>
<ellipse cx="-2.6" cy="-75.2" rx="8.4" ry="7.7" transform="rotate(22 -2.6 -75.2)" fill="#2c2319"/>
<ellipse cx="-3.3" cy="-76.4" rx="7.8" ry="7.1" transform="rotate(22 -3.3 -76.4)" fill="url(#k5)"/>
<ellipse cx="25.0" cy="-71.1" rx="9.1" ry="8.2" transform="rotate(92 25.0 -71.1)" fill="#2c2319"/>
<ellipse cx="24.3" cy="-72.3" rx="8.5" ry="7.6" transform="rotate(92 24.3 -72.3)" fill="url(#k3)"/>
<ellipse cx="10.1" cy="-70.4" rx="8.2" ry="7.1" transform="rotate(154 10.1 -70.4)" fill="#2c2319"/>
<ellipse cx="9.4" cy="-71.6" rx="7.6" ry="6.5" transform="rotate(154 9.4 -71.6)" fill="url(#k1)"/>
<ellipse cx="-20.9" cy="-69.9" rx="8.2" ry="7.1" transform="rotate(179 -20.9 -69.9)" fill="#2c2319"/>
<ellipse cx="-21.6" cy="-71.1" rx="7.6" ry="6.5" transform="rotate(179 -21.6 -71.1)" fill="url(#k2)"/>
<ellipse cx="-33.5" cy="-66.5" rx="9.5" ry="8.9" transform="rotate(77 -33.5 -66.5)" fill="#2c2319"/>
<ellipse cx="-34.2" cy="-67.7" rx="8.9" ry="8.3" transform="rotate(77 -34.2 -67.7)" fill="url(#k3)"/>
<ellipse cx="36.8" cy="-65.8" rx="8.3" ry="7.2" transform="rotate(115 36.8 -65.8)" fill="#2c2319"/>
<ellipse cx="36.1" cy="-67.0" rx="7.7" ry="6.6" transform="rotate(115 36.1 -67.0)" fill="url(#k3)"/>
<ellipse cx="-55.8" cy="-64.3" rx="8.9" ry="8.1" transform="rotate(164 -55.8 -64.3)" fill="#2c2319"/>
<ellipse cx="-56.5" cy="-65.5" rx="8.3" ry="7.5" transform="rotate(164 -56.5 -65.5)" fill="url(#k1)"/>
<ellipse cx="0.7" cy="-61.3" rx="8.9" ry="7.9" transform="rotate(6 0.7 -61.3)" fill="#2c2319"/>
<ellipse cx="0.0" cy="-62.5" rx="8.3" ry="7.3" transform="rotate(6 0.0 -62.5)" fill="url(#k4)"/>
<ellipse cx="62.0" cy="-60.7" rx="9.4" ry="8.2" transform="rotate(39 62.0 -60.7)" fill="#2c2319"/>
<ellipse cx="61.3" cy="-61.9" rx="8.8" ry="7.6" transform="rotate(39 61.3 -61.9)" fill="url(#k2)"/>
<ellipse cx="-67.7" cy="-60.2" rx="8.3" ry="7.7" transform="rotate(26 -67.7 -60.2)" fill="#2c2319"/>
<ellipse cx="-68.4" cy="-61.4" rx="7.7" ry="7.1" transform="rotate(26 -68.4 -61.4)" fill="url(#k2)"/>
<ellipse cx="18.0" cy="-59.1" rx="8.6" ry="8.1" transform="rotate(1 18.0 -59.1)" fill="#2c2319"/>
<ellipse cx="17.3" cy="-60.3" rx="8.0" ry="7.5" transform="rotate(1 17.3 -60.3)" fill="url(#k3)"/>
<ellipse cx="-12.1" cy="-59.0" rx="9.3" ry="9.0" transform="rotate(178 -12.1 -59.0)" fill="#2c2319"/>
<ellipse cx="-12.8" cy="-60.2" rx="8.7" ry="8.4" transform="rotate(178 -12.8 -60.2)" fill="url(#k5)"/>
<ellipse cx="-46.4" cy="-56.6" rx="8.3" ry="7.8" transform="rotate(84 -46.4 -56.6)" fill="#2c2319"/>
<ellipse cx="-47.1" cy="-57.8" rx="7.7" ry="7.2" transform="rotate(84 -47.1 -57.8)" fill="url(#k5)"/>
<ellipse cx="45.2" cy="-56.0" rx="9.7" ry="9.1" transform="rotate(16 45.2 -56.0)" fill="#2c2319"/>
<ellipse cx="44.5" cy="-57.2" rx="9.1" ry="8.5" transform="rotate(16 44.5 -57.2)" fill="url(#k4)"/>
<ellipse cx="29.8" cy="-55.6" rx="9.1" ry="8.2" transform="rotate(99 29.8 -55.6)" fill="#2c2319"/>
<ellipse cx="29.1" cy="-56.8" rx="8.5" ry="7.6" transform="rotate(99 29.1 -56.8)" fill="url(#k1)"/>
<ellipse cx="-32.3" cy="-52.5" rx="9.8" ry="8.4" transform="rotate(13 -32.3 -52.5)" fill="#2c2319"/>
<ellipse cx="-33.0" cy="-53.7" rx="9.2" ry="7.8" transform="rotate(13 -33.0 -53.7)" fill="url(#k1)"/>
<ellipse cx="75.4" cy="-49.6" rx="8.6" ry="7.7" transform="rotate(49 75.4 -49.6)" fill="#2c2319"/>
<ellipse cx="74.7" cy="-50.8" rx="8.0" ry="7.1" transform="rotate(49 74.7 -50.8)" fill="url(#k1)"/>
<ellipse cx="-57.7" cy="-47.8" rx="8.7" ry="7.7" transform="rotate(11 -57.7 -47.8)" fill="#2c2319"/>
<ellipse cx="-58.4" cy="-49.0" rx="8.1" ry="7.1" transform="rotate(11 -58.4 -49.0)" fill="url(#k1)"/>
<ellipse cx="-71.2" cy="-47.8" rx="9.0" ry="8.9" transform="rotate(102 -71.2 -47.8)" fill="#2c2319"/>
<ellipse cx="-71.9" cy="-49.0" rx="8.4" ry="8.3" transform="rotate(102 -71.9 -49.0)" fill="url(#k2)"/>
<ellipse cx="12.4" cy="-47.6" rx="8.8" ry="8.0" transform="rotate(121 12.4 -47.6)" fill="#2c2319"/>
<ellipse cx="11.7" cy="-48.8" rx="8.2" ry="7.4" transform="rotate(121 11.7 -48.8)" fill="url(#k4)"/>
<ellipse cx="56.6" cy="-47.0" rx="8.9" ry="8.5" transform="rotate(77 56.6 -47.0)" fill="#2c2319"/>
<ellipse cx="55.9" cy="-48.2" rx="8.3" ry="7.9" transform="rotate(77 55.9 -48.2)" fill="url(#k4)"/>
<ellipse cx="-9.1" cy="-43.7" rx="8.6" ry="7.6" transform="rotate(85 -9.1 -43.7)" fill="#2c2319"/>
<ellipse cx="-9.8" cy="-44.9" rx="8.0" ry="7.0" transform="rotate(85 -9.8 -44.9)" fill="url(#k1)"/>
<ellipse cx="-43.4" cy="-42.8" rx="9.2" ry="8.0" transform="rotate(61 -43.4 -42.8)" fill="#2c2319"/>
<ellipse cx="-44.1" cy="-44.0" rx="8.6" ry="7.4" transform="rotate(61 -44.1 -44.0)" fill="url(#k1)"/>
<ellipse cx="28.7" cy="-40.3" rx="8.3" ry="7.3" transform="rotate(54 28.7 -40.3)" fill="#2c2319"/>
<ellipse cx="28.0" cy="-41.5" rx="7.7" ry="6.7" transform="rotate(54 28.0 -41.5)" fill="url(#k3)"/>
<ellipse cx="-81.5" cy="-40.1" rx="8.4" ry="8.2" transform="rotate(51 -81.5 -40.1)" fill="#2c2319"/>
<ellipse cx="-82.2" cy="-41.3" rx="7.8" ry="7.6" transform="rotate(51 -82.2 -41.3)" fill="url(#k2)"/>
<ellipse cx="45.2" cy="-39.9" rx="10.2" ry="9.9" transform="rotate(29 45.2 -39.9)" fill="#2c2319"/>
<ellipse cx="44.5" cy="-41.1" rx="9.6" ry="9.3" transform="rotate(29 44.5 -41.1)" fill="url(#k5)"/>
<ellipse cx="4.2" cy="-38.9" rx="8.3" ry="7.7" transform="rotate(133 4.2 -38.9)" fill="#2c2319"/>
<ellipse cx="3.5" cy="-40.1" rx="7.7" ry="7.1" transform="rotate(133 3.5 -40.1)" fill="url(#k1)"/>
<ellipse cx="-29.6" cy="-38.0" rx="9.7" ry="9.5" transform="rotate(10 -29.6 -38.0)" fill="#2c2319"/>
<ellipse cx="-30.3" cy="-39.2" rx="9.1" ry="8.9" transform="rotate(10 -30.3 -39.2)" fill="url(#k2)"/>
<ellipse cx="73.5" cy="-34.9" rx="9.6" ry="8.8" transform="rotate(65 73.5 -34.9)" fill="#2c2319"/>
<ellipse cx="72.8" cy="-36.1" rx="9.0" ry="8.2" transform="rotate(65 72.8 -36.1)" fill="url(#k4)"/>
<ellipse cx="-56.5" cy="-33.9" rx="9.0" ry="8.1" transform="rotate(55 -56.5 -33.9)" fill="#2c2319"/>
<ellipse cx="-57.2" cy="-35.1" rx="8.4" ry="7.5" transform="rotate(55 -57.2 -35.1)" fill="url(#k1)"/>
<ellipse cx="15.2" cy="-33.3" rx="8.3" ry="7.4" transform="rotate(98 15.2 -33.3)" fill="#2c2319"/>
<ellipse cx="14.5" cy="-34.5" rx="7.7" ry="6.8" transform="rotate(98 14.5 -34.5)" fill="url(#k3)"/>
<ellipse cx="56.8" cy="-31.3" rx="9.8" ry="9.3" transform="rotate(100 56.8 -31.3)" fill="#2c2319"/>
<ellipse cx="56.1" cy="-32.5" rx="9.2" ry="8.7" transform="rotate(100 56.1 -32.5)" fill="url(#k3)"/>
<ellipse cx="-14.6" cy="-30.1" rx="9.1" ry="8.8" transform="rotate(136 -14.6 -30.1)" fill="#2c2319"/>
<ellipse cx="-15.3" cy="-31.3" rx="8.5" ry="8.2" transform="rotate(136 -15.3 -31.3)" fill="url(#k1)"/>
<ellipse cx="85.8" cy="-29.4" rx="8.6" ry="7.6" transform="rotate(53 85.8 -29.4)" fill="#2c2319"/>
<ellipse cx="85.1" cy="-30.6" rx="8.0" ry="7.0" transform="rotate(53 85.1 -30.6)" fill="url(#k4)"/>
<ellipse cx="-76.5" cy="-29.3" rx="8.7" ry="8.7" transform="rotate(109 -76.5 -29.3)" fill="#2c2319"/>
<ellipse cx="-77.2" cy="-30.5" rx="8.1" ry="8.1" transform="rotate(109 -77.2 -30.5)" fill="url(#k5)"/>
<ellipse cx="36.5" cy="-28.1" rx="8.2" ry="7.3" transform="rotate(36 36.5 -28.1)" fill="#2c2319"/>
<ellipse cx="35.8" cy="-29.3" rx="7.6" ry="6.7" transform="rotate(36 35.8 -29.3)" fill="url(#k5)"/>
<ellipse cx="4.1" cy="-26.8" rx="8.3" ry="8.1" transform="rotate(7 4.1 -26.8)" fill="#2c2319"/>
<ellipse cx="3.4" cy="-28.0" rx="7.7" ry="7.5" transform="rotate(7 3.4 -28.0)" fill="url(#k2)"/>
<ellipse cx="-41.1" cy="-21.0" rx="9.5" ry="9.4" transform="rotate(149 -41.1 -21.0)" fill="#2c2319"/>
<ellipse cx="-41.8" cy="-22.2" rx="8.9" ry="8.8" transform="rotate(149 -41.8 -22.2)" fill="url(#k4)"/>
<ellipse cx="-56.2" cy="-20.5" rx="8.3" ry="7.7" transform="rotate(176 -56.2 -20.5)" fill="#2c2319"/>
<ellipse cx="-56.9" cy="-21.7" rx="7.7" ry="7.1" transform="rotate(176 -56.9 -21.7)" fill="url(#k5)"/>
<ellipse cx="-85.7" cy="-20.4" rx="9.0" ry="9.0" transform="rotate(138 -85.7 -20.4)" fill="#2c2319"/>
<ellipse cx="-86.4" cy="-21.6" rx="8.4" ry="8.4" transform="rotate(138 -86.4 -21.6)" fill="url(#k1)"/>
<ellipse cx="74.2" cy="-20.2" rx="8.9" ry="7.7" transform="rotate(122 74.2 -20.2)" fill="#2c2319"/>
<ellipse cx="73.5" cy="-21.4" rx="8.3" ry="7.1" transform="rotate(122 73.5 -21.4)" fill="url(#k4)"/>
<ellipse cx="15.7" cy="-18.8" rx="10.2" ry="10.1" transform="rotate(35 15.7 -18.8)" fill="#2c2319"/>
<ellipse cx="15.0" cy="-20.0" rx="9.6" ry="9.5" transform="rotate(35 15.0 -20.0)" fill="url(#k3)"/>
<ellipse cx="-20.2" cy="-18.4" rx="8.4" ry="7.7" transform="rotate(45 -20.2 -18.4)" fill="#2c2319"/>
<ellipse cx="-20.9" cy="-19.6" rx="7.8" ry="7.1" transform="rotate(45 -20.9 -19.6)" fill="url(#k4)"/>
<ellipse cx="49.1" cy="-15.7" rx="9.0" ry="8.8" transform="rotate(133 49.1 -15.7)" fill="#2c2319"/>
<ellipse cx="48.4" cy="-16.9" rx="8.4" ry="8.2" transform="rotate(133 48.4 -16.9)" fill="url(#k5)"/>
<ellipse cx="-73.4" cy="-14.7" rx="9.7" ry="8.8" transform="rotate(176 -73.4 -14.7)" fill="#2c2319"/>
<ellipse cx="-74.1" cy="-15.9" rx="9.1" ry="8.2" transform="rotate(176 -74.1 -15.9)" fill="url(#k3)"/>
<ellipse cx="1.6" cy="-13.6" rx="8.3" ry="7.7" transform="rotate(116 1.6 -13.6)" fill="#2c2319"/>
<ellipse cx="0.9" cy="-14.8" rx="7.7" ry="7.1" transform="rotate(116 0.9 -14.8)" fill="url(#k5)"/>
<ellipse cx="35.7" cy="-12.8" rx="8.8" ry="8.0" transform="rotate(74 35.7 -12.8)" fill="#2c2319"/>
<ellipse cx="35.0" cy="-14.0" rx="8.2" ry="7.4" transform="rotate(74 35.0 -14.0)" fill="url(#k1)"/>
<ellipse cx="62.6" cy="-12.0" rx="9.2" ry="8.6" transform="rotate(34 62.6 -12.0)" fill="#2c2319"/>
<ellipse cx="61.9" cy="-13.2" rx="8.6" ry="8.0" transform="rotate(34 61.9 -13.2)" fill="url(#k2)"/>
<ellipse cx="84.8" cy="-11.6" rx="9.9" ry="8.8" transform="rotate(23 84.8 -11.6)" fill="#2c2319"/>
<ellipse cx="84.1" cy="-12.8" rx="9.3" ry="8.2" transform="rotate(23 84.1 -12.8)" fill="url(#k1)"/>
<ellipse cx="-39.7" cy="-8.2" rx="8.3" ry="8.2" transform="rotate(89 -39.7 -8.2)" fill="#2c2319"/>
<ellipse cx="-40.4" cy="-9.4" rx="7.7" ry="7.6" transform="rotate(89 -40.4 -9.4)" fill="url(#k3)"/>
<ellipse cx="19.2" cy="-6.3" rx="8.3" ry="7.3" transform="rotate(118 19.2 -6.3)" fill="#2c2319"/>
<ellipse cx="18.5" cy="-7.5" rx="7.7" ry="6.7" transform="rotate(118 18.5 -7.5)" fill="url(#k5)"/>
<ellipse cx="-86.7" cy="-3.9" rx="8.9" ry="8.3" transform="rotate(139 -86.7 -3.9)" fill="#2c2319"/>
<ellipse cx="-87.4" cy="-5.1" rx="8.3" ry="7.7" transform="rotate(139 -87.4 -5.1)" fill="url(#k1)"/>
<ellipse cx="-22.3" cy="-3.7" rx="9.2" ry="8.0" transform="rotate(180 -22.3 -3.7)" fill="#2c2319"/>
<ellipse cx="-23.0" cy="-4.9" rx="8.6" ry="7.4" transform="rotate(180 -23.0 -4.9)" fill="url(#k2)"/>
<ellipse cx="-5.9" cy="-1.9" rx="8.4" ry="7.8" transform="rotate(142 -5.9 -1.9)" fill="#2c2319"/>
<ellipse cx="-6.6" cy="-3.1" rx="7.8" ry="7.2" transform="rotate(142 -6.6 -3.1)" fill="url(#k2)"/>
<ellipse cx="-51.0" cy="-1.7" rx="9.4" ry="8.9" transform="rotate(82 -51.0 -1.7)" fill="#2c2319"/>
<ellipse cx="-51.7" cy="-2.9" rx="8.8" ry="8.3" transform="rotate(82 -51.7 -2.9)" fill="url(#k1)"/>
<ellipse cx="70.7" cy="-1.5" rx="8.3" ry="8.2" transform="rotate(52 70.7 -1.5)" fill="#2c2319"/>
<ellipse cx="70.0" cy="-2.7" rx="7.7" ry="7.6" transform="rotate(52 70.0 -2.7)" fill="url(#k4)"/>
<ellipse cx="-66.8" cy="-0.9" rx="8.3" ry="7.4" transform="rotate(76 -66.8 -0.9)" fill="#2c2319"/>
<ellipse cx="-67.5" cy="-2.1" rx="7.7" ry="6.8" transform="rotate(76 -67.5 -2.1)" fill="url(#k5)"/>
<ellipse cx="37.7" cy="4.2" rx="9.4" ry="8.6" transform="rotate(36 37.7 4.2)" fill="#2c2319"/>
<ellipse cx="37.0" cy="3.0" rx="8.8" ry="8.0" transform="rotate(36 37.0 3.0)" fill="url(#k3)"/>
<ellipse cx="15.1" cy="6.1" rx="10.0" ry="9.0" transform="rotate(138 15.1 6.1)" fill="#2c2319"/>
<ellipse cx="14.4" cy="4.9" rx="9.4" ry="8.4" transform="rotate(138 14.4 4.9)" fill="url(#k2)"/>
<ellipse cx="88.2" cy="6.7" rx="8.5" ry="7.6" transform="rotate(169 88.2 6.7)" fill="#2c2319"/>
<ellipse cx="87.5" cy="5.5" rx="7.9" ry="7.0" transform="rotate(169 87.5 5.5)" fill="url(#k1)"/>
<ellipse cx="53.5" cy="7.5" rx="9.8" ry="9.5" transform="rotate(135 53.5 7.5)" fill="#2c2319"/>
<ellipse cx="52.8" cy="6.3" rx="9.2" ry="8.9" transform="rotate(135 52.8 6.3)" fill="url(#k4)"/>
<ellipse cx="-82.2" cy="8.2" rx="8.9" ry="8.1" transform="rotate(21 -82.2 8.2)" fill="#2c2319"/>
<ellipse cx="-82.9" cy="7.0" rx="8.3" ry="7.5" transform="rotate(21 -82.9 7.0)" fill="url(#k2)"/>
<ellipse cx="74.8" cy="10.2" rx="8.9" ry="8.1" transform="rotate(105 74.8 10.2)" fill="#2c2319"/>
<ellipse cx="74.1" cy="9.0" rx="8.3" ry="7.5" transform="rotate(105 74.1 9.0)" fill="url(#k1)"/>
<ellipse cx="-60.1" cy="10.3" rx="9.2" ry="9.0" transform="rotate(65 -60.1 10.3)" fill="#2c2319"/>
<ellipse cx="-60.8" cy="9.1" rx="8.6" ry="8.4" transform="rotate(65 -60.8 9.1)" fill="url(#k2)"/>
<ellipse cx="-7.6" cy="11.2" rx="8.3" ry="8.3" transform="rotate(88 -7.6 11.2)" fill="#2c2319"/>
<ellipse cx="-8.3" cy="10.0" rx="7.7" ry="7.7" transform="rotate(88 -8.3 10.0)" fill="url(#k2)"/>
<ellipse cx="-37.9" cy="12.3" rx="9.0" ry="8.6" transform="rotate(136 -37.9 12.3)" fill="#2c2319"/>
<ellipse cx="-38.6" cy="11.1" rx="8.4" ry="8.0" transform="rotate(136 -38.6 11.1)" fill="url(#k1)"/>
<ellipse cx="-24.7" cy="14.1" rx="10.1" ry="10.0" transform="rotate(83 -24.7 14.1)" fill="#2c2319"/>
<ellipse cx="-25.4" cy="12.9" rx="9.5" ry="9.4" transform="rotate(83 -25.4 12.9)" fill="url(#k4)"/>
<ellipse cx="34.4" cy="16.0" rx="8.2" ry="7.5" transform="rotate(111 34.4 16.0)" fill="#2c2319"/>
<ellipse cx="33.7" cy="14.8" rx="7.6" ry="6.9" transform="rotate(111 33.7 14.8)" fill="url(#k5)"/>
<ellipse cx="3.3" cy="18.4" rx="8.4" ry="7.4" transform="rotate(170 3.3 18.4)" fill="#2c2319"/>
<ellipse cx="2.6" cy="17.2" rx="7.8" ry="6.8" transform="rotate(170 2.6 17.2)" fill="url(#k5)"/>
<ellipse cx="88.7" cy="19.6" rx="8.3" ry="7.6" transform="rotate(81 88.7 19.6)" fill="#2c2319"/>
<ellipse cx="88.0" cy="18.4" rx="7.7" ry="7.0" transform="rotate(81 88.0 18.4)" fill="url(#k5)"/>
<ellipse cx="-68.8" cy="21.3" rx="9.0" ry="7.9" transform="rotate(117 -68.8 21.3)" fill="#2c2319"/>
<ellipse cx="-69.5" cy="20.1" rx="8.4" ry="7.3" transform="rotate(117 -69.5 20.1)" fill="url(#k4)"/>
<ellipse cx="-87.9" cy="21.3" rx="8.4" ry="8.2" transform="rotate(161 -87.9 21.3)" fill="#2c2319"/>
<ellipse cx="-88.6" cy="20.1" rx="7.8" ry="7.6" transform="rotate(161 -88.6 20.1)" fill="url(#k2)"/>
<ellipse cx="53.6" cy="22.0" rx="8.9" ry="8.6" transform="rotate(133 53.6 22.0)" fill="#2c2319"/>
<ellipse cx="52.9" cy="20.8" rx="8.3" ry="8.0" transform="rotate(133 52.9 20.8)" fill="url(#k2)"/>
<ellipse cx="73.3" cy="23.3" rx="8.5" ry="7.7" transform="rotate(98 73.3 23.3)" fill="#2c2319"/>
<ellipse cx="72.6" cy="22.1" rx="7.9" ry="7.1" transform="rotate(98 72.6 22.1)" fill="url(#k3)"/>
<ellipse cx="-15.4" cy="24.5" rx="9.5" ry="9.5" transform="rotate(41 -15.4 24.5)" fill="#2c2319"/>
<ellipse cx="-16.1" cy="23.3" rx="8.9" ry="8.9" transform="rotate(41 -16.1 23.3)" fill="url(#k2)"/>
<ellipse cx="25.5" cy="25.7" rx="9.6" ry="9.0" transform="rotate(109 25.5 25.7)" fill="#2c2319"/>
<ellipse cx="24.8" cy="24.5" rx="9.0" ry="8.4" transform="rotate(109 24.8 24.5)" fill="url(#k5)"/>
<ellipse cx="-53.0" cy="25.9" rx="10.1" ry="9.8" transform="rotate(21 -53.0 25.9)" fill="#2c2319"/>
<ellipse cx="-53.7" cy="24.7" rx="9.5" ry="9.2" transform="rotate(21 -53.7 24.7)" fill="url(#k5)"/>
<ellipse cx="-35.6" cy="26.1" rx="8.4" ry="7.6" transform="rotate(12 -35.6 26.1)" fill="#2c2319"/>
<ellipse cx="-36.3" cy="24.9" rx="7.8" ry="7.0" transform="rotate(12 -36.3 24.9)" fill="url(#k1)"/>
<ellipse cx="41.1" cy="26.4" rx="8.4" ry="7.3" transform="rotate(120 41.1 26.4)" fill="#2c2319"/>
<ellipse cx="40.4" cy="25.2" rx="7.8" ry="6.7" transform="rotate(120 40.4 25.2)" fill="url(#k2)"/>
<ellipse cx="10.4" cy="28.2" rx="8.4" ry="8.0" transform="rotate(174 10.4 28.2)" fill="#2c2319"/>
<ellipse cx="9.7" cy="27.0" rx="7.8" ry="7.4" transform="rotate(174 9.7 27.0)" fill="url(#k5)"/>
<ellipse cx="86.9" cy="31.6" rx="8.3" ry="7.4" transform="rotate(126 86.9 31.6)" fill="#2c2319"/>
<ellipse cx="86.2" cy="30.4" rx="7.7" ry="6.8" transform="rotate(126 86.2 30.4)" fill="url(#k5)"/>
<ellipse cx="-3.4" cy="36.8" rx="9.7" ry="8.7" transform="rotate(90 -3.4 36.8)" fill="#2c2319"/>
<ellipse cx="-4.1" cy="35.6" rx="9.1" ry="8.1" transform="rotate(90 -4.1 35.6)" fill="url(#k5)"/>
<ellipse cx="-80.7" cy="37.7" rx="8.5" ry="7.9" transform="rotate(166 -80.7 37.7)" fill="#2c2319"/>
<ellipse cx="-81.4" cy="36.5" rx="7.9" ry="7.3" transform="rotate(166 -81.4 36.5)" fill="url(#k5)"/>
<ellipse cx="36.2" cy="38.7" rx="8.7" ry="8.6" transform="rotate(159 36.2 38.7)" fill="#2c2319"/>
<ellipse cx="35.5" cy="37.5" rx="8.1" ry="8.0" transform="rotate(159 35.5 37.5)" fill="url(#k2)"/>
<ellipse cx="-27.8" cy="38.7" rx="9.0" ry="7.9" transform="rotate(43 -27.8 38.7)" fill="#2c2319"/>
<ellipse cx="-28.5" cy="37.5" rx="8.4" ry="7.3" transform="rotate(43 -28.5 37.5)" fill="url(#k4)"/>
<ellipse cx="57.8" cy="39.8" rx="8.7" ry="8.3" transform="rotate(2 57.8 39.8)" fill="#2c2319"/>
<ellipse cx="57.1" cy="38.6" rx="8.1" ry="7.7" transform="rotate(2 57.1 38.6)" fill="url(#k2)"/>
<ellipse cx="14.4" cy="40.1" rx="8.4" ry="8.4" transform="rotate(140 14.4 40.1)" fill="#2c2319"/>
<ellipse cx="13.7" cy="38.9" rx="7.8" ry="7.8" transform="rotate(140 13.7 38.9)" fill="url(#k4)"/>
<ellipse cx="75.8" cy="40.6" rx="8.7" ry="8.3" transform="rotate(48 75.8 40.6)" fill="#2c2319"/>
<ellipse cx="75.1" cy="39.4" rx="8.1" ry="7.7" transform="rotate(48 75.1 39.4)" fill="url(#k5)"/>
<ellipse cx="-66.3" cy="43.1" rx="9.5" ry="9.0" transform="rotate(22 -66.3 43.1)" fill="#2c2319"/>
<ellipse cx="-67.0" cy="41.9" rx="8.9" ry="8.4" transform="rotate(22 -67.0 41.9)" fill="url(#k3)"/>
<ellipse cx="-48.4" cy="44.8" rx="10.0" ry="8.9" transform="rotate(133 -48.4 44.8)" fill="#2c2319"/>
<ellipse cx="-49.1" cy="43.6" rx="9.4" ry="8.3" transform="rotate(133 -49.1 43.6)" fill="url(#k2)"/>
<ellipse cx="46.5" cy="45.9" rx="8.6" ry="7.6" transform="rotate(70 46.5 45.9)" fill="#2c2319"/>
<ellipse cx="45.8" cy="44.7" rx="8.0" ry="7.0" transform="rotate(70 45.8 44.7)" fill="url(#k3)"/>
<ellipse cx="-19.9" cy="49.2" rx="9.9" ry="9.9" transform="rotate(111 -19.9 49.2)" fill="#2c2319"/>
<ellipse cx="-20.6" cy="48.0" rx="9.3" ry="9.3" transform="rotate(111 -20.6 48.0)" fill="url(#k4)"/>
<ellipse cx="-37.1" cy="51.5" rx="8.8" ry="8.5" transform="rotate(83 -37.1 51.5)" fill="#2c2319"/>
<ellipse cx="-37.8" cy="50.3" rx="8.2" ry="7.9" transform="rotate(83 -37.8 50.3)" fill="url(#k5)"/>
<ellipse cx="-7.5" cy="52.2" rx="8.4" ry="8.0" transform="rotate(80 -7.5 52.2)" fill="#2c2319"/>
<ellipse cx="-8.2" cy="51.0" rx="7.8" ry="7.4" transform="rotate(80 -8.2 51.0)" fill="url(#k3)"/>
<ellipse cx="33.3" cy="52.5" rx="9.3" ry="8.6" transform="rotate(11 33.3 52.5)" fill="#2c2319"/>
<ellipse cx="32.6" cy="51.3" rx="8.7" ry="8.0" transform="rotate(11 32.6 51.3)" fill="url(#k2)"/>
<ellipse cx="61.2" cy="52.9" rx="8.3" ry="8.0" transform="rotate(131 61.2 52.9)" fill="#2c2319"/>
<ellipse cx="60.5" cy="51.7" rx="7.7" ry="7.4" transform="rotate(131 60.5 51.7)" fill="url(#k3)"/>
<ellipse cx="-75.3" cy="53.1" rx="8.5" ry="8.1" transform="rotate(175 -75.3 53.1)" fill="#2c2319"/>
<ellipse cx="-76.0" cy="51.9" rx="7.9" ry="7.5" transform="rotate(175 -76.0 51.9)" fill="url(#k5)"/>
<ellipse cx="72.7" cy="55.9" rx="9.0" ry="8.7" transform="rotate(48 72.7 55.9)" fill="#2c2319"/>
<ellipse cx="72.0" cy="54.7" rx="8.4" ry="8.1" transform="rotate(48 72.0 54.7)" fill="url(#k5)"/>
<ellipse cx="11.5" cy="56.3" rx="8.4" ry="7.4" transform="rotate(125 11.5 56.3)" fill="#2c2319"/>
<ellipse cx="10.8" cy="55.1" rx="7.8" ry="6.8" transform="rotate(125 10.8 55.1)" fill="url(#k5)"/>
<ellipse cx="49.4" cy="57.8" rx="9.1" ry="8.2" transform="rotate(150 49.4 57.8)" fill="#2c2319"/>
<ellipse cx="48.7" cy="56.6" rx="8.5" ry="7.6" transform="rotate(150 48.7 56.6)" fill="url(#k3)"/>
<ellipse cx="-56.8" cy="58.5" rx="9.3" ry="8.5" transform="rotate(145 -56.8 58.5)" fill="#2c2319"/>
<ellipse cx="-57.5" cy="57.3" rx="8.7" ry="7.9" transform="rotate(145 -57.5 57.3)" fill="url(#k1)"/>
<ellipse cx="0.6" cy="61.4" rx="8.5" ry="7.7" transform="rotate(140 0.6 61.4)" fill="#2c2319"/>
<ellipse cx="-0.1" cy="60.2" rx="7.9" ry="7.1" transform="rotate(140 -0.1 60.2)" fill="url(#k1)"/>
<ellipse cx="-27.8" cy="61.8" rx="8.4" ry="7.9" transform="rotate(177 -27.8 61.8)" fill="#2c2319"/>
<ellipse cx="-28.5" cy="60.6" rx="7.8" ry="7.3" transform="rotate(177 -28.5 60.6)" fill="url(#k3)"/>
<ellipse cx="20.8" cy="64.1" rx="8.7" ry="7.5" transform="rotate(35 20.8 64.1)" fill="#2c2319"/>
<ellipse cx="20.1" cy="62.9" rx="8.1" ry="6.9" transform="rotate(35 20.1 62.9)" fill="url(#k4)"/>
<ellipse cx="-13.9" cy="64.6" rx="8.4" ry="8.2" transform="rotate(143 -13.9 64.6)" fill="#2c2319"/>
<ellipse cx="-14.6" cy="63.4" rx="7.8" ry="7.6" transform="rotate(143 -14.6 63.4)" fill="url(#k1)"/>
<ellipse cx="-39.5" cy="64.8" rx="9.0" ry="8.7" transform="rotate(28 -39.5 64.8)" fill="#2c2319"/>
<ellipse cx="-40.2" cy="63.6" rx="8.4" ry="8.1" transform="rotate(28 -40.2 63.6)" fill="url(#k5)"/>
<ellipse cx="38.6" cy="68.2" rx="9.6" ry="9.1" transform="rotate(43 38.6 68.2)" fill="#2c2319"/>
<ellipse cx="37.9" cy="67.0" rx="9.0" ry="8.5" transform="rotate(43 37.9 67.0)" fill="url(#k5)"/>
<ellipse cx="-3.8" cy="73.4" rx="8.7" ry="7.5" transform="rotate(93 -3.8 73.4)" fill="#2c2319"/>
<ellipse cx="-4.5" cy="72.2" rx="8.1" ry="6.9" transform="rotate(93 -4.5 72.2)" fill="url(#k1)"/>
<ellipse cx="55.0" cy="73.9" rx="9.8" ry="8.9" transform="rotate(133 55.0 73.9)" fill="#2c2319"/>
<ellipse cx="54.3" cy="72.7" rx="9.2" ry="8.3" transform="rotate(133 54.3 72.7)" fill="url(#k1)"/>
<ellipse cx="10.3" cy="75.6" rx="9.8" ry="9.2" transform="rotate(159 10.3 75.6)" fill="#2c2319"/>
<ellipse cx="9.6" cy="74.4" rx="9.2" ry="8.6" transform="rotate(159 9.6 74.4)" fill="url(#k2)"/>
<ellipse cx="-26.7" cy="75.7" rx="10.1" ry="9.1" transform="rotate(91 -26.7 75.7)" fill="#2c2319"/>
<ellipse cx="-27.4" cy="74.5" rx="9.5" ry="8.5" transform="rotate(91 -27.4 74.5)" fill="url(#k5)"/>
<ellipse cx="-14.4" cy="79.0" rx="8.3" ry="8.1" transform="rotate(40 -14.4 79.0)" fill="#2c2319"/>
<ellipse cx="-15.1" cy="77.8" rx="7.7" ry="7.5" transform="rotate(40 -15.1 77.8)" fill="url(#k2)"/>
<ellipse cx="-48.1" cy="79.5" rx="8.3" ry="7.5" transform="rotate(53 -48.1 79.5)" fill="#2c2319"/>
<ellipse cx="-48.8" cy="78.3" rx="7.7" ry="6.9" transform="rotate(53 -48.8 78.3)" fill="url(#k5)"/>
<ellipse cx="31.9" cy="80.7" rx="9.8" ry="9.2" transform="rotate(13 31.9 80.7)" fill="#2c2319"/>
<ellipse cx="31.2" cy="79.5" rx="9.2" ry="8.6" transform="rotate(13 31.2 79.5)" fill="url(#k2)"/>
<ellipse cx="19.7" cy="84.6" rx="8.3" ry="7.4" transform="rotate(13 19.7 84.6)" fill="#2c2319"/>
<ellipse cx="19.0" cy="83.4" rx="7.7" ry="6.8" transform="rotate(13 19.0 83.4)" fill="url(#k5)"/>
<ellipse cx="-36.8" cy="85.0" rx="8.3" ry="8.1" transform="rotate(39 -36.8 85.0)" fill="#2c2319"/>
<ellipse cx="-37.5" cy="83.8" rx="7.7" ry="7.5" transform="rotate(39 -37.5 83.8)" fill="url(#k4)"/>
<ellipse cx="-3.6" cy="86.9" rx="9.6" ry="9.2" transform="rotate(42 -3.6 86.9)" fill="#2c2319"/>
<ellipse cx="-4.3" cy="85.7" rx="9.0" ry="8.6" transform="rotate(42 -4.3 85.7)" fill="url(#k5)"/>
<ellipse cx="-23.0" cy="88.7" rx="8.5" ry="7.4" transform="rotate(117 -23.0 88.7)" fill="#2c2319"/>
<ellipse cx="-23.7" cy="87.5" rx="7.9" ry="6.8" transform="rotate(117 -23.7 87.5)" fill="url(#k5)"/>
<ellipse cx="9.7" cy="92.3" rx="9.5" ry="8.2" transform="rotate(124 9.7 92.3)" fill="#2c2319"/>
<ellipse cx="9.0" cy="91.1" rx="8.9" ry="7.6" transform="rotate(124 9.0 91.1)" fill="url(#k5)"/>
 </g>
 <radialGradient id="k1" cx="42%" cy="38%" r="65%"><stop offset="0" stop-color="#a08868"/><stop offset="1" stop-color="#65503c"/></radialGradient>
 <radialGradient id="k2" cx="42%" cy="38%" r="65%"><stop offset="0" stop-color="#947c60"/><stop offset="1" stop-color="#5c4937"/></radialGradient>
 <radialGradient id="k3" cx="42%" cy="38%" r="65%"><stop offset="0" stop-color="#8a7258"/><stop offset="1" stop-color="#554332"/></radialGradient>
 <radialGradient id="k4" cx="42%" cy="38%" r="65%"><stop offset="0" stop-color="#a58d6e"/><stop offset="1" stop-color="#6a5541"/></radialGradient>
 <radialGradient id="k5" cx="42%" cy="38%" r="65%"><stop offset="0" stop-color="#907a5f"/><stop offset="1" stop-color="#5a4838"/></radialGradient>
 <clipPath id="bc"><circle cx="120" cy="120" r="116"/></clipPath>
 <clipPath id="kc2"><circle cx="121.5" cy="121" r="100"/></clipPath>
 <clipPath id="kc"><circle cx="120" cy="120" r="106"/></clipPath>
 <radialGradient id="rim" cx="50%" cy="50%" r="50%">
  <stop offset="0.82" stop-color="#d9561f"/>
  <stop offset="0.90" stop-color="#e6602a"/>
  <stop offset="1" stop-color="#ea6630"/>
 </radialGradient>
</defs>
</svg>
</body></html>
